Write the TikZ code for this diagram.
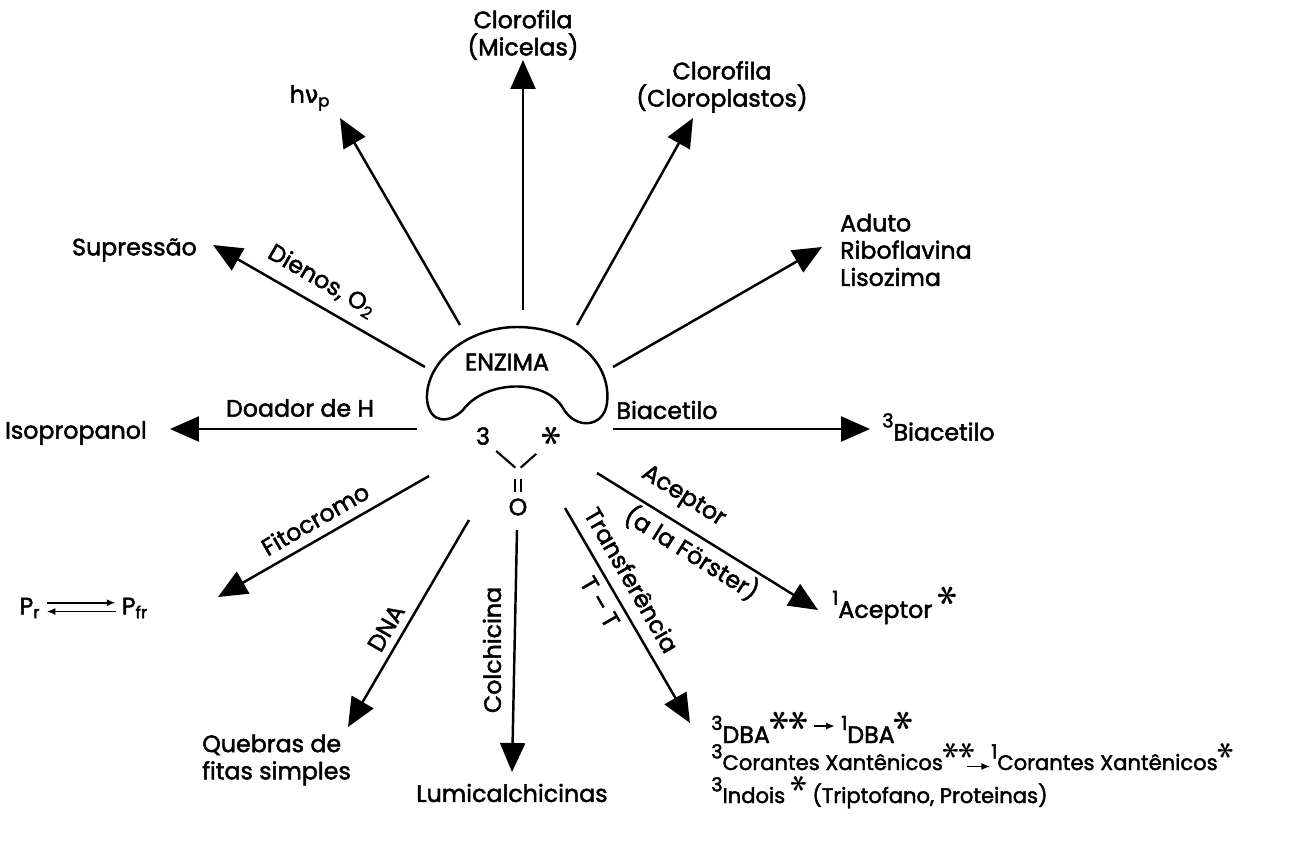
\documentclass[tikz,border=0pt]{standalone}
\usepackage{amsmath}
\usepackage{fontspec}
\setmainfont{Poppins}[FakeBold=2]
\newfontfamily\grk{DejaVu Sans}[FakeBold=2]
\usetikzlibrary{arrows.meta}
\newcommand{\sps}[1]{\raisebox{0.55em}{\fontsize{11}{12}\selectfont #1}}
\newcommand{\estrb}{\scalebox{1.6}{\rotatebox{90}{$\boldsymbol{\ast}$}}}
\newcommand{\estr}{\raisebox{0.45em}{\estrb}}
\begin{document}
\begin{tikzpicture}[x=0.02cm,y=-0.02cm,font=\fontsize{13.5}{15.5}\selectfont,
    seta/.style={line width=1.4pt,-{Triangle[length=0.58cm,width=0.5cm]}},
    flecha/.style={line width=1.1pt,-{Latex[length=5pt,width=4pt]}},
    menor/.style={font=\fontsize{12}{13}\selectfont}]
    \useasboundingbox (0,0) rectangle (1315,851);
    \draw [line width=1.4pt] (463,410) .. controls (450,423) and (430,425) .. (427,400)
      .. controls (425,360) and (470,327) .. (517,327)
      .. controls (570,327) and (612,360) .. (607,403)
      .. controls (604,428) and (575,430) .. (563,408)
      .. controls (545,378) and (485,380) .. (463,410) -- cycle;
    \node (enz) at (507,362) {ENZIMA};
    \node (tres) at (483,436) {3};
    \node (ast) at (552,436) {\estrb};
    \coordinate (carb) at (518,470);
    \node (oxi) at (518,507) {O};
    \draw [line width=1.2pt,shorten >=2pt] (tres.south east) -- (carb);
    \draw [line width=1.2pt,shorten >=2pt] (ast.south west) -- (carb);
    \draw [line width=1.2pt,shorten <=5pt] ([xshift=-1.6pt]carb) -- ([xshift=-1.6pt]oxi.north);
    \draw [line width=1.2pt,shorten <=5pt] ([xshift=1.6pt]carb) -- ([xshift=1.6pt]oxi.north);

    \coordinate (hvA) at (460,325); \coordinate (hvB) at (340,118);
    \coordinate (micA) at (523,310); \coordinate (micB) at (523,60);
    \coordinate (cloA) at (577,325); \coordinate (cloB) at (693,118);
    \coordinate (aduA) at (613,367); \coordinate (aduB) at (822,247);
    \coordinate (biaA) at (613,429); \coordinate (biaB) at (870,429);
    \coordinate (aceA) at (597,473); \coordinate (aceB) at (818,610);
    \coordinate (traA) at (565,508); \coordinate (traB) at (690,723);
    \coordinate (colA) at (517,530); \coordinate (colB) at (512,772);
    \coordinate (dnaA) at (469,520); \coordinate (dnaB) at (348,727);
    \coordinate (fitA) at (429,476); \coordinate (fitB) at (218,597);
    \coordinate (doaA) at (417,429); \coordinate (doaB) at (170,429);
    \coordinate (supA) at (425,367); \coordinate (supB) at (213,245);
    \draw [seta] (hvA) -- (hvB);
    \draw [seta] (micA) -- (micB);
    \draw [seta] (cloA) -- (cloB);
    \draw [seta] (aduA) -- (aduB);
    \draw [seta] (biaA) -- (biaB);
    \draw [seta] (aceA) -- (aceB);
    \draw [seta] (traA) -- (traB);
    \draw [seta] (colA) -- (colB);
    \draw [seta] (dnaA) -- (dnaB);
    \draw [seta] (fitA) -- (fitB);
    \draw [seta] (doaA) -- (doaB);
    \draw [seta] (supA) -- (supB);

    \node (hv) at (310,98) {h{\grk ν}\textsubscript{p}};
    \node [align=center] (mic) at (523,35) {Clorofila\\(Micelas)};
    \node [align=center] (clo) at (722,87) {Clorofila\\(Cloroplastos)};
    \node [align=left,anchor=west] (adu) at (834,250) {Aduto\\Riboflavina\\Lisozima};
    \node [anchor=west] (bia) at (876,427) {\sps{3}Biacetilo};
    \node [anchor=west] (ace) at (826,604) {\sps{1}Aceptor \estr};
    \node [anchor=east] (iso) at (153,433) {Isopropanol};
    \node [anchor=east] (sup) at (203,250) {Supressão};
    \node [align=left,anchor=west] (que) at (196,760) {Quebras de\\fitas simples};
    \node (lum) at (512,793) {Lumicalchicinas};
    \node (pr) at (30,608) {P\textsubscript{r}};
    \node (pfr) at (135,608) {P\textsubscript{fr}};
    \draw [flecha] ([yshift=3pt]pr.east) -- ([yshift=3pt]pfr.west);
    \draw [flecha] ([yshift=-2pt]pfr.west) -- ([yshift=-2pt]pr.east);

    \node [rotate=-30] (die) at (322,281) {Dienos, O\textsubscript{2}};
    \node (doa) at (300,408) {Doador de H};
    \node [rotate=30] (fit) at (315,519) {Fitocromo};
    \node [rotate=60] (dnal) at (386,628) {DNA};
    \node [rotate=90] (col) at (492,650) {Colchicina};
    \node [rotate=-60] (tra) at (632,580) {Transferência};
    \node [rotate=-60] (tt) at (600,602) {T -- T};
    \node [rotate=-32] (acel) at (683,497) {Aceptor};
    \node [rotate=-32] (for) at (692,553) {(a la Förster)};
    \node (bial) at (667,410) {Biacetilo};

    \node [anchor=base west] (dba3) at (705,743) {\sps{3}DBA\estr\estr};
    \node [anchor=base west] (dba1) at (835,743) {\sps{1}DBA\estr};
    \draw [flecha] (dba3) -- (dba1);
    \node [menor,anchor=base west] (cor3) at (705,770) {\sps{3}Corantes Xantênicos\estr\estr};
    \node [menor,anchor=base west] (cor1) at (985,770) {\sps{1}Corantes Xantênicos\estr};
    \draw [flecha] ([xshift=-8pt,yshift=2pt]cor3.base east) -- ([xshift=3pt,yshift=2pt]cor1.base west);
    \node [menor,anchor=base west] (ind) at (705,803) {\sps{3}Indois \estr\ (Triptofano, Proteinas)};
\end{tikzpicture}
\end{document}
